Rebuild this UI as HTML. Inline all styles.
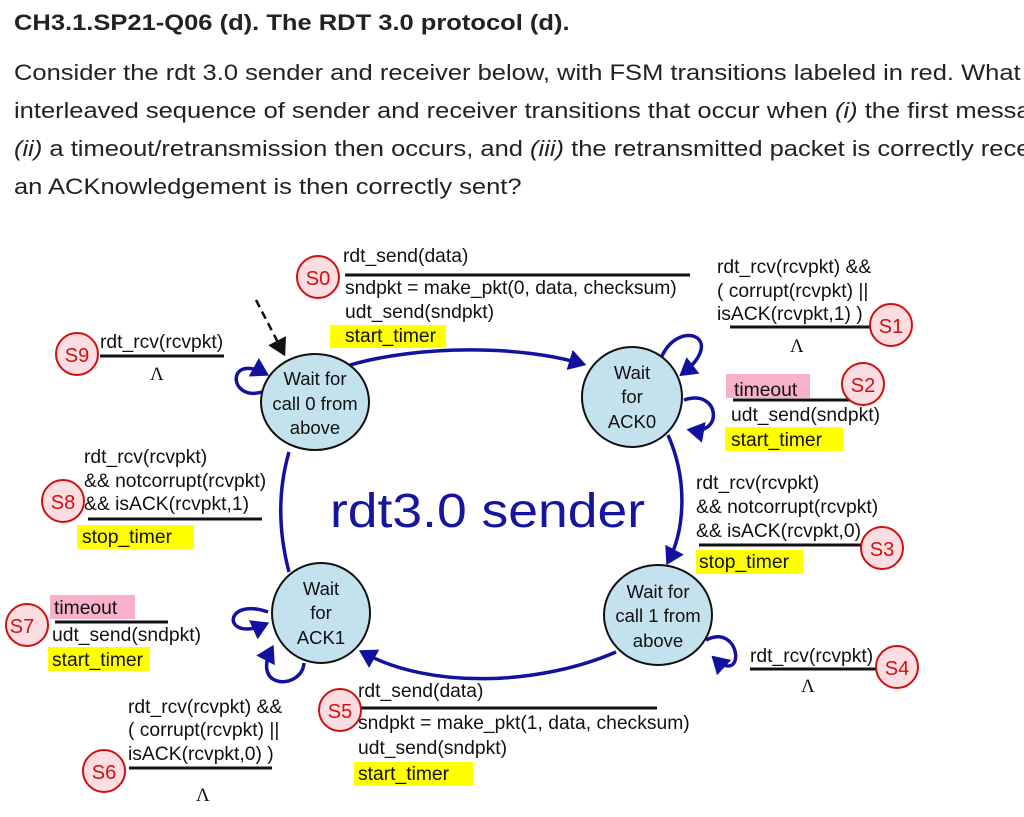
<!DOCTYPE html>
<html><head><meta charset="utf-8"><style>
html,body{margin:0;padding:0;background:#fff;width:1024px;height:817px;overflow:hidden}
svg{display:block}
.t{font-family:"Liberation Sans",Arial,sans-serif;font-size:19.3px;fill:#111}
.h{font-family:"Liberation Sans",Arial,sans-serif;font-size:22px;fill:#222}
.b{fill:#fcdde2;stroke:#d01010;stroke-width:2}
.bt{font-family:"Liberation Sans",Arial,sans-serif;font-size:20px;fill:#d01010;text-anchor:middle}
.st{fill:#c4e2ee;stroke:#111;stroke-width:2}
.sl{font-family:"Liberation Sans",Arial,sans-serif;font-size:18.5px;fill:#111;text-anchor:middle}
.e{fill:none;stroke:#1212a0;stroke-width:3.5}
.ln{stroke:#111;stroke-width:3}
</style></head><body>
<svg width="1024" height="817" viewBox="0 0 1024 817" xmlns="http://www.w3.org/2000/svg">
<defs>
<marker id="a" markerWidth="6" markerHeight="6" refX="4" refY="3" orient="auto" markerUnits="strokeWidth"><path d="M0,0 L5,3 L0,6 z" fill="#1212a0"/></marker>
<marker id="k" markerWidth="8" markerHeight="8" refX="6" refY="4" orient="auto" markerUnits="strokeWidth"><path d="M0,0 L7,4 L0,8 z" fill="#111"/></marker>
</defs>
<g transform="translate(14,0) scale(1.16,1)">
<text x="0" y="30" class="h" style="font-weight:bold;font-size:22px">CH3.1.SP21-Q06 (d). The RDT 3.0 protocol (d).</text>
<text x="0" y="80" class="h">Consider the rdt 3.0 sender and receiver below, with FSM transitions labeled in red.  What</text>
<text x="0" y="118" class="h">interleaved sequence of sender and receiver transitions that occur when <tspan font-style="italic">(i)</tspan> the first message</text>
<text x="0" y="156" class="h"><tspan font-style="italic">(ii)</tspan> a timeout/retransmission then occurs, and <tspan font-style="italic">(iii)</tspan> the retransmitted packet is correctly received</text>
<text x="0" y="194" class="h">an ACKnowledgement is then correctly sent?</text>
</g>

<!-- edges -->
<path class="e" d="M350,365 C420,345 520,345 583,364" marker-end="url(#a)"/>
<path class="e" d="M668,435 C688,480 685,530 668,562" marker-end="url(#a)"/>
<path class="e" d="M616,652 C540,685 430,690 362,652" marker-end="url(#a)"/>
<path class="e" d="M289,572 C278,530 278,490 289,452"/>
<path class="e" d="M262,392 C228,402 226,352 266,374" marker-end="url(#a)"/>
<path class="e" d="M662,356 C680,318 728,338 682,374" marker-end="url(#a)"/>
<path class="e" d="M684,400 C720,388 724,436 690,430" marker-end="url(#a)"/>
<path class="e" d="M706,640 C742,622 746,688 714,658" marker-end="url(#a)"/>
<path class="e" d="M268,612 C222,596 222,644 266,624" marker-end="url(#a)"/>
<path class="e" d="M304,663 C302,690 250,690 272,648" marker-end="url(#a)"/>
<path d="M256,300 L284,354" stroke="#111" stroke-width="2.5" stroke-dasharray="8,5" fill="none" marker-end="url(#k)"/>

<!-- states -->
<ellipse class="st" cx="315" cy="402" rx="54" ry="48"/>
<text class="sl" x="315" y="385">Wait for</text><text class="sl" x="315" y="410">call 0 from</text><text class="sl" x="315" y="434">above</text>
<ellipse class="st" cx="632" cy="397" rx="50" ry="50"/>
<text class="sl" x="632" y="379">Wait</text><text class="sl" x="632" y="403">for</text><text class="sl" x="632" y="428">ACK0</text>
<ellipse class="st" cx="321" cy="613" rx="49" ry="50"/>
<text class="sl" x="321" y="595">Wait</text><text class="sl" x="321" y="619">for</text><text class="sl" x="321" y="644">ACK1</text>
<ellipse class="st" cx="658" cy="615" rx="54" ry="50"/>
<text class="sl" x="658" y="598">Wait for</text><text class="sl" x="658" y="622">call 1 from</text><text class="sl" x="658" y="647">above</text>

<text x="330" y="527" textLength="315" lengthAdjust="spacingAndGlyphs" style="font-family:'Liberation Sans',sans-serif;font-size:48px;fill:#1515a0">rdt3.0 sender</text>

<!-- highlights -->
<rect x="330" y="325" width="116" height="23" fill="#ffff00"/>
<rect x="726" y="374" width="84" height="24" fill="#f8b0cc"/>
<rect x="725" y="427" width="118" height="24" fill="#ffff00"/>
<rect x="696" y="550" width="107" height="24" fill="#ffff00"/>
<rect x="354" y="762" width="119" height="24" fill="#ffff00"/>
<rect x="50" y="595" width="85" height="24" fill="#f8b0cc"/>
<rect x="48" y="647" width="102" height="24" fill="#ffff00"/>
<rect x="77" y="525" width="117" height="24" fill="#ffff00"/>

<!-- S0 -->
<text class="t" x="343" y="262">rdt_send(data)</text>
<line class="ln" x1="345" y1="275" x2="690" y2="275"/>
<text class="t" x="345" y="294">sndpkt = make_pkt(0, data, checksum)</text>
<text class="t" x="345" y="318">udt_send(sndpkt)</text>
<text class="t" x="345" y="342">start_timer</text>
<!-- S9 -->
<text class="t" x="100" y="348">rdt_rcv(rcvpkt)</text>
<line class="ln" x1="100" y1="356" x2="224" y2="356"/>
<text class="t" x="150" y="380" style="font-family:'Liberation Serif',serif;font-size:19px">Λ</text>
<!-- S1 -->
<text class="t" x="717" y="273">rdt_rcv(rcvpkt) &amp;&amp;</text>
<text class="t" x="717" y="297">( corrupt(rcvpkt) ||</text>
<text class="t" x="717" y="320">isACK(rcvpkt,1) )</text>
<line class="ln" x1="730" y1="327" x2="872" y2="327"/>
<text class="t" x="790" y="352" style="font-family:'Liberation Serif',serif;font-size:19px">Λ</text>
<!-- S2 -->
<text class="t" x="734" y="396">timeout</text>
<line class="ln" x1="733" y1="400" x2="850" y2="400"/>
<text class="t" x="731" y="421">udt_send(sndpkt)</text>
<text class="t" x="731" y="446">start_timer</text>
<!-- S3 -->
<text class="t" x="696" y="489">rdt_rcv(rcvpkt)</text>
<text class="t" x="696" y="513">&amp;&amp; notcorrupt(rcvpkt)</text>
<text class="t" x="696" y="537">&amp;&amp; isACK(rcvpkt,0)</text>
<line class="ln" x1="699" y1="545" x2="862" y2="545"/>
<text class="t" x="699" y="568">stop_timer</text>
<!-- S4 -->
<text class="t" x="750" y="662">rdt_rcv(rcvpkt)</text>
<line class="ln" x1="750" y1="669" x2="882" y2="669"/>
<text class="t" x="801" y="692" style="font-family:'Liberation Serif',serif;font-size:19px">Λ</text>
<!-- S5 -->
<text class="t" x="358" y="697">rdt_send(data)</text>
<line class="ln" x1="358" y1="708" x2="657" y2="708"/>
<text class="t" x="358" y="729">sndpkt = make_pkt(1, data, checksum)</text>
<text class="t" x="358" y="754">udt_send(sndpkt)</text>
<text class="t" x="358" y="780">start_timer</text>
<!-- S6 -->
<text class="t" x="128" y="713">rdt_rcv(rcvpkt) &amp;&amp;</text>
<text class="t" x="128" y="736">( corrupt(rcvpkt) ||</text>
<text class="t" x="128" y="760">isACK(rcvpkt,0) )</text>
<line class="ln" x1="129" y1="768" x2="272" y2="768"/>
<text class="t" x="196" y="801" style="font-family:'Liberation Serif',serif;font-size:19px">Λ</text>
<!-- S7 -->
<text class="t" x="54" y="614">timeout</text>
<line class="ln" x1="55" y1="622" x2="168" y2="622"/>
<text class="t" x="52" y="641">udt_send(sndpkt)</text>
<text class="t" x="52" y="666">start_timer</text>
<!-- S8 -->
<text class="t" x="84" y="463">rdt_rcv(rcvpkt)</text>
<text class="t" x="84" y="487">&amp;&amp; notcorrupt(rcvpkt)</text>
<text class="t" x="84" y="510">&amp;&amp; isACK(rcvpkt,1)</text>
<line class="ln" x1="88" y1="519" x2="262" y2="519"/>
<text class="t" x="82" y="543">stop_timer</text>

<!-- badges -->
<g>
<circle class="b" cx="318" cy="277" r="21"/><text class="bt" x="318" y="285">S0</text>
<circle class="b" cx="891" cy="325" r="21"/><text class="bt" x="891" y="333">S1</text>
<circle class="b" cx="863" cy="384" r="21"/><text class="bt" x="863" y="392">S2</text>
<circle class="b" cx="882" cy="548" r="21"/><text class="bt" x="882" y="556">S3</text>
<circle class="b" cx="897" cy="667" r="21"/><text class="bt" x="897" y="675">S4</text>
<circle class="b" cx="340" cy="710" r="21"/><text class="bt" x="340" y="718">S5</text>
<circle class="b" cx="104" cy="771" r="21"/><text class="bt" x="104" y="779">S6</text>
<circle class="b" cx="27" cy="625" r="21"/><text class="bt" x="22" y="633">S7</text>
<circle class="b" cx="63" cy="501" r="21"/><text class="bt" x="63" y="509">S8</text>
<circle class="b" cx="77" cy="354" r="21"/><text class="bt" x="77" y="362">S9</text>
</g>
</svg>
</body></html>
